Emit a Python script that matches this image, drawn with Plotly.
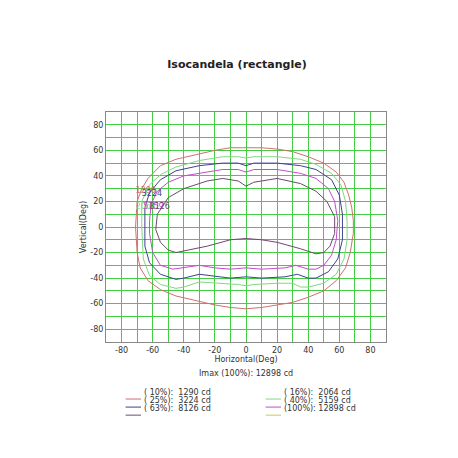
import plotly.graph_objects as go

levels = ["( 10%):  1290 cd", "( 16%):  2064 cd", "( 25%):  3224 cd",
          "( 40%):  5159 cd", "( 63%):  8126 cd", "(100%): 12898 cd"]
colors = ["#d07070", "#80d880", "#404090", "#c050c8", "#704870", "#c8c860"]
values = ["1290", "2064", "3224", "5159", "8126", "12898"]

c10_x = [-70,-67,-63,-55,-45,-30,-20,-10,0,10,20,30,40,50,58,63,66,68,69,69,67,64,58,50,40,30,20,10,0,-10,-20,-30,-40,-45,-55,-63,-68,-70,-71,-70]
c10_y = [20,30,38,48,53,57,60,62,62,62,61,59,55,50,43,35,25,15,5,-5,-20,-32,-42,-50,-55,-59,-61,-63,-64,-63,-61,-58,-55,-54,-49,-42,-32,-20,0,20]
c16_x = [-67,-62,-55,-45,-30,-15,-5,0,5,20,35,45,55,61,64,65,65,63,58,50,40,35,30,20,5,0,-5,-20,-30,-40,-45,-55,-62,-66,-67,-67]
c16_y = [20,33,41,47,52,55,55,54,55,55,53,49,42,33,20,5,-10,-25,-37,-44,-47,-47,-44,-44,-45,-46,-45,-44,-43,-47,-48,-45,-38,-25,0,20]
c25_x = [-65,-62,-55,-45,-30,-15,-5,0,5,20,35,45,55,60,62,62,59,53,45,40,33,25,10,0,-10,-25,-30,-40,-45,-55,-62,-65,-65,-65]
c25_y = [15,27,37,44,48,50,50,48,50,50,48,45,37,25,10,-10,-25,-35,-40,-40,-37,-39,-40,-39,-40,-38,-37,-40,-41,-37,-28,-15,0,15]
c40_x = [-61,-57,-50,-40,-25,-15,-5,0,5,20,35,45,53,57,59,58,55,50,45,40,32,25,10,0,-10,-20,-30,-40,-47,-55,-60,-62,-62,-61]
c40_y = [18,28,35,40,43,45,45,43,45,45,42,38,30,20,5,-10,-22,-30,-33,-33,-30,-32,-33,-32,-33,-32,-30,-32,-33,-30,-20,-5,5,18]
c63_x = [-57,-50,-40,-25,-15,-5,0,5,20,35,45,52,57,57,54,50,45,35,20,10,0,-10,-25,-45,-50,-55,-58,-57]
c63_y = [10,23,30,36,38,36,32,35,38,34,28,20,8,-5,-15,-20,-21,-17,-12,-10,-9,-10,-15,-20,-18,-12,-2,10]
contours = [(c10_x, c10_y), (c16_x, c16_y), (c25_x, c25_y), (c40_x, c40_y), (c63_x, c63_y)]
label_x = [-71, -71, -67, -66, -62]
label_y = [28, 16, 26, 16, 16]

tick_vals = list(range(-90, 91, 10))
tick_text = [str(v) if v % 20 == 0 and abs(v) < 90 else "" for v in tick_vals]

fig = go.Figure()
for (xs, ys), col in zip(contours, colors):
    fig.add_trace(go.Scatter(x=xs, y=ys, mode="lines", line=dict(color=col, width=1),
                             showlegend=False, hoverinfo="skip"))
fig.add_trace(go.Scatter(x=label_x, y=label_y, mode="text", text=values[:5],
                         textfont=dict(color=colors[:5], size=8, family="DejaVu Sans"),
                         textposition="middle right", showlegend=False, hoverinfo="skip"))

ax = dict(range=[-90, 90], tickvals=tick_vals, ticktext=tick_text, showgrid=True, gridcolor="#44cc44",
          gridwidth=1, zeroline=False, showline=True, linecolor="#888", mirror=True, ticks="",
          automargin=False, tickfont=dict(size=8, family="DejaVu Sans", color="#333"))
fig.update_xaxes(**ax, title=dict(text="Horizontal(Deg)", font=dict(size=8, family="DejaVu Sans", color="#333"), standoff=2))
fig.update_yaxes(**ax, title=dict(text="Vertical(Deg)", font=dict(size=8, family="DejaVu Sans", color="#333"), standoff=2))

fig.add_annotation(text="Imax (100%): 12898 cd", xref="paper", yref="paper", x=0.5, y=-0.165,
                   showarrow=False, font=dict(size=8, family="DejaVu Sans", color="#333"))
for i, (lab, col) in enumerate(zip(levels, colors)):
    colx = 0.0 if i % 2 == 0 else 0.5
    row = i // 2
    yy = -0.248 - row * 0.035
    fig.add_shape(type="line", xref="paper", yref="paper", x0=colx + 0.07, x1=colx + 0.125, y0=yy, y1=yy,
                  line=dict(color=col, width=1))
    fig.add_annotation(text=lab, xref="paper", yref="paper", x=colx + 0.13, y=yy, xanchor="left",
                       showarrow=False, font=dict(size=8, family="DejaVu Sans", color="#333"))

fig.update_layout(width=458, height=458, margin=dict(l=98, r=80, t=104, b=124),
                  paper_bgcolor="white", plot_bgcolor="white",
                  title=dict(text="<b>Isocandela (rectangle)</b>", x=0.5, y=0.878, xanchor="center",
                             yanchor="middle", font=dict(size=11, family="DejaVu Sans", color="#222")))
fig.write_html("out.html")
